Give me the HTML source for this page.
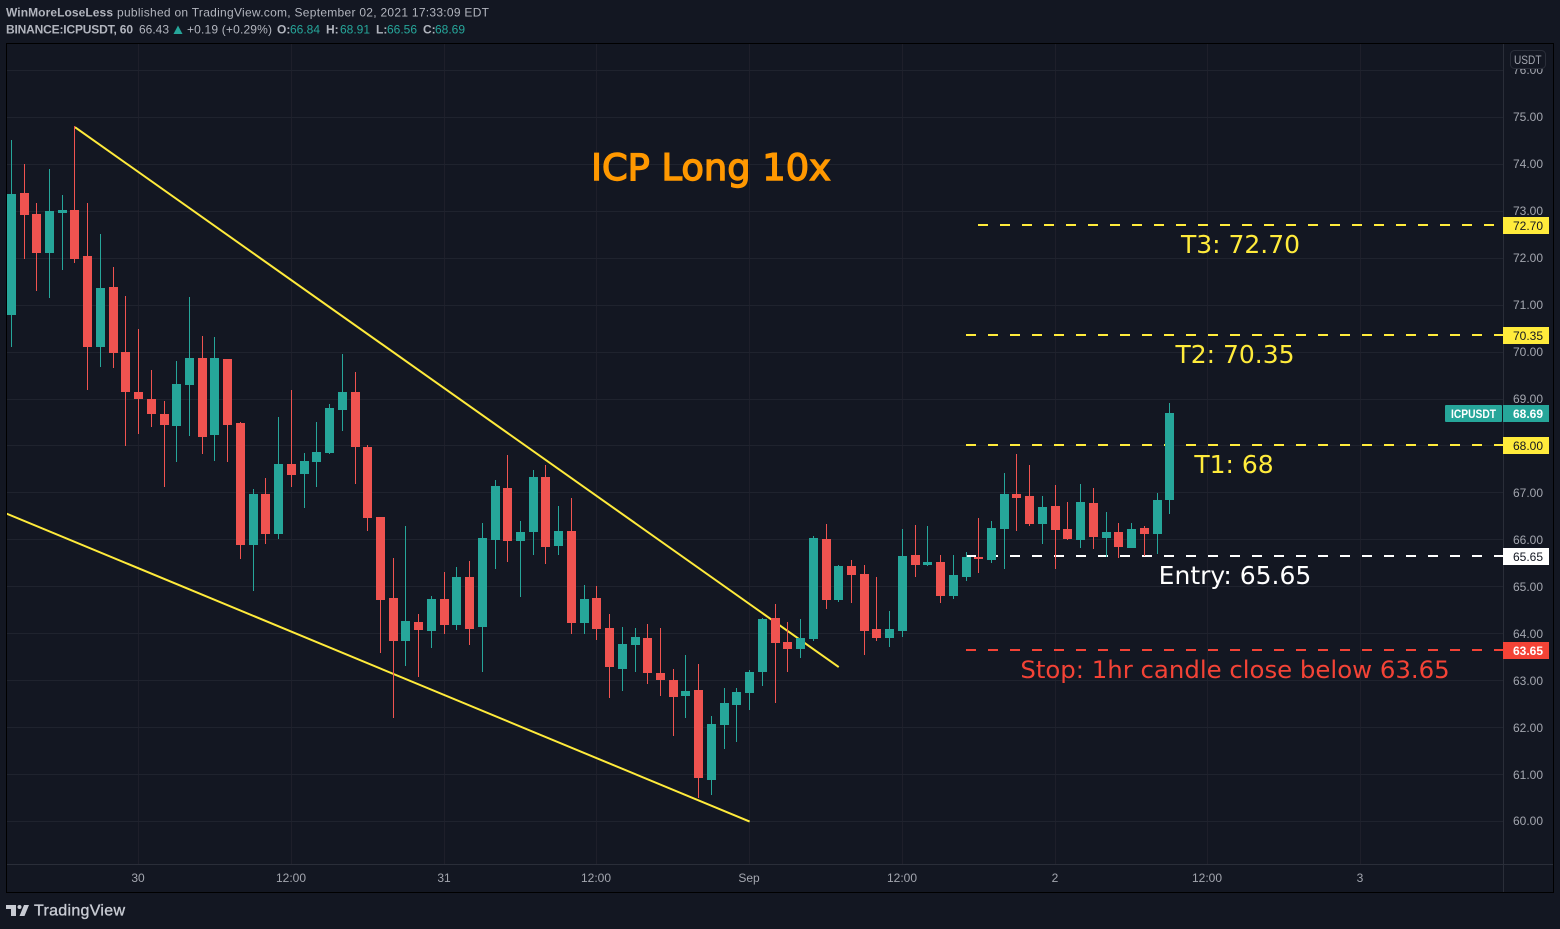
<!DOCTYPE html>
<html lang="en">
<head>
<meta charset="utf-8">
<title>ICPUSDT chart</title>
<style>
html,body{margin:0;padding:0;background:#131722;width:1560px;height:929px;overflow:hidden}
svg{display:block;position:absolute;left:0;top:0}
text{font-family:"Liberation Sans",sans-serif}
.note{font-family:"DejaVu Sans","Liberation Sans",sans-serif;font-size:25px;text-anchor:middle}
.ax{font-size:12px;fill:#a3a6af}
.hd{font-size:12px;fill:#b2b5be}
.hdb{font-size:12px;fill:#b2b5be;font-weight:bold}
.hdg{font-size:12px;fill:#26a69a}
</style>
</head>
<body>
<svg id="chart" width="1560" height="929" viewBox="0 0 1560 929" xmlns="http://www.w3.org/2000/svg">
  <defs><clipPath id="pane"><rect x="7" y="44" width="1496" height="820"/></clipPath></defs>
  <rect x="6.5" y="43.5" width="1547" height="849" fill="#131722" stroke="#000" stroke-width="1"/>
  <g id="grid"></g>
  <g id="drawings" clip-path="url(#pane)"></g>
  <g id="candles" clip-path="url(#pane)"></g>
  <rect x="1503" y="44" width="1" height="848" fill="#2a2e39"/>
  <rect x="7" y="864" width="1546" height="1" fill="#2a2e39"/>
  <g id="priceAxis"></g>
  <g id="timeAxis"></g>

  <g>
    <text x="6" y="16.5" class="hdb" textLength="107" lengthAdjust="spacing">WinMoreLoseLess</text>
    <text x="117" y="16.5" class="hd" textLength="372" lengthAdjust="spacing">published on TradingView.com, September 02, 2021 17:33:09 EDT</text>
    <text x="6" y="33.5" class="hdb" textLength="127" lengthAdjust="spacing">BINANCE:ICPUSDT, 60</text>
    <text x="139" y="33.5" class="hd">66.43</text>
    <path d="M173.5 34L178 25.5L182.5 34Z" fill="#26a69a"/>
    <text x="187" y="33.5" class="hd" textLength="85" lengthAdjust="spacing">+0.19 (+0.29%)</text>
    <text x="277" y="33.5" class="hdb">O:</text>
    <text x="290" y="33.5" class="hdg">66.84</text>
    <text x="326" y="33.5" class="hdb">H:</text>
    <text x="340" y="33.5" class="hdg">68.91</text>
    <text x="376" y="33.5" class="hdb">L:</text>
    <text x="387" y="33.5" class="hdg">66.56</text>
    <text x="423" y="33.5" class="hdb">C:</text>
    <text x="435" y="33.5" class="hdg">68.69</text>
  </g>

  <text x="711" y="180" font-size="36.8" fill="#ff9800" stroke="#ff9800" stroke-width="1.4" text-anchor="middle" style='font-family:"DejaVu Sans",sans-serif'>ICP Long 10x</text>
  <text x="1240.5" y="253" class="note" fill="#ffeb3b">T3: 72.70</text>
  <text x="1235" y="363" class="note" fill="#ffeb3b">T2: 70.35</text>
  <text x="1234" y="473" class="note" fill="#ffeb3b">T1: 68</text>
  <text x="1235" y="584" class="note" fill="#ffffff">Entry: 65.65</text>
  <text x="1235" y="678" class="note" fill="#f44336" style="font-size:24.4px">Stop: 1hr candle close below 63.65</text>

  <g>
    <path d="M6 905H16V916H11V909H6ZM24 905H29L24.5 916H19.5Z" fill="#c8cbd3"/>
    <circle cx="19.5" cy="907" r="2" fill="#c8cbd3"/>
    <text x="34" y="915.5" font-size="16" fill="#c8cbd3" stroke="#c8cbd3" stroke-width="0.35" textLength="91" lengthAdjust="spacing">TradingView</text>
  </g>
  <g>
    <rect x="1510.5" y="50.5" width="35" height="18" rx="4" fill="#131722" stroke="#2a2e39"/>
    <text x="1514" y="64" class="ax" textLength="27.5" lengthAdjust="spacingAndGlyphs">USDT</text>
  </g>
</svg>
<script>
var opens = [70.78,73.38,72.93,72.10,72.95,73.02,72.04,70.10,71.38,69.99,
69.14,68.99,68.67,68.42,69.29,69.86,68.22,69.84,68.48,65.88,
66.97,66.11,67.61,67.39,67.65,67.84,68.76,69.14,67.97,66.48,
64.75,63.84,64.24,64.05,64.73,64.18,65.20,64.13,65.99,67.09,
65.97,66.16,67.33,65.86,66.18,64.22,64.75,64.11,63.24,63.75,
63.90,63.15,63.01,62.66,62.79,60.88,62.05,62.47,62.73,63.18,
64.33,63.81,63.67,63.88,66.01,64.71,65.43,65.26,64.09,63.90,
64.05,65.67,65.45,65.52,64.79,65.20,65.63,65.56,66.22,66.97,
66.92,66.33,66.71,66.22,65.99,66.78,66.03,66.16,65.82,66.24,
66.11,66.84];
var highs = [74.51,74.00,73.17,73.89,73.34,74.81,73.17,72.51,71.80,71.18,
70.48,69.61,68.95,69.80,71.16,70.33,70.31,69.84,68.50,67.07,
67.31,68.61,69.18,67.84,68.50,68.88,69.95,69.57,68.01,66.48,
65.60,66.29,64.41,64.79,65.31,65.41,65.54,66.35,67.27,67.80,
66.39,67.48,67.58,66.71,66.88,65.03,65.01,64.41,64.13,64.11,
64.20,64.11,63.24,63.54,63.35,62.24,62.84,62.84,63.22,64.33,
64.62,64.24,64.30,66.07,66.33,65.45,65.56,65.45,65.20,64.47,
66.22,66.31,66.29,65.67,65.67,65.73,66.46,66.39,67.41,67.82,
67.58,66.92,67.16,66.80,67.18,67.09,66.58,66.35,66.35,66.29,
66.99,68.91];
var lows = [70.10,71.97,71.29,71.14,71.74,71.89,69.18,69.67,69.65,67.99,
68.25,68.39,67.12,67.65,68.20,67.82,67.67,67.65,65.58,64.90,
65.90,66.01,67.12,66.67,67.12,67.82,68.31,67.18,66.18,63.58,
62.20,63.30,63.07,63.69,63.99,64.07,63.75,63.18,65.37,65.52,
64.77,65.67,65.48,65.67,63.99,63.99,63.86,62.62,62.77,63.18,
62.92,62.66,61.81,62.20,60.49,60.56,61.54,61.68,62.37,62.88,
62.52,63.18,63.47,63.84,64.52,64.67,64.65,63.54,63.84,63.71,
63.92,65.20,65.43,64.65,64.73,65.11,65.28,65.50,65.37,66.18,
66.29,65.90,65.37,65.99,65.82,65.80,65.63,65.60,65.82,65.65,
65.69,66.54];
var closes = [73.36,72.91,72.10,72.99,73.02,71.97,70.10,71.36,69.97,69.14,
68.99,68.67,68.44,69.31,69.86,68.18,69.86,68.44,65.88,66.97,
66.11,67.61,67.37,67.67,67.86,68.80,69.14,67.97,66.46,64.71,
63.84,64.26,64.07,64.73,64.18,65.20,64.09,66.03,67.14,65.97,
66.16,67.33,65.84,66.18,64.22,64.73,64.09,63.28,63.77,63.92,
63.15,63.01,62.64,62.77,60.92,62.07,62.52,62.75,63.18,64.30,
63.79,63.67,63.90,66.03,64.71,65.43,65.24,64.05,63.90,64.09,
65.65,65.45,65.52,64.79,65.24,65.63,65.58,66.24,66.97,66.88,
66.33,66.69,66.20,66.01,66.80,66.05,66.16,65.84,66.22,66.11,
66.84,68.69];
var priceTicks = [76,75,74,73,72,71,70,69,68,67,66,65,64,63,62,61,60];
var timeLabels = ["30","12:00","31","12:00","Sep","12:00","2","12:00","3"];
var timeBars = [10,22,34,46,58,70,82,94,106];
var levelPrices = [72.70,70.35,68.00,65.65,63.65];
var levelStartBars = [76,75,75,75,75];
var upperTrendBars = [5,65];
var upperTrendPrices = [74.78,63.28];
var lowerTrendBars = [-1,58];
var lowerTrendPrices = [66.62,59.99];
var lastPrice = 68.69;
var symbolName = "ICPUSDT";

var NS = "http://www.w3.org/2000/svg";
var GREEN = "#26a69a", RED = "#ef5350", YELLOW = "#ffeb3b", STOP = "#f44336";
var levelColors = [YELLOW, YELLOW, YELLOW, "#ffffff", STOP];
var levelTextColors = ["#131722", "#131722", "#131722", "#131722", "#ffffff"];
var levelTextWeights = ["normal", "normal", "normal", "normal", "bold"];

function xScale(bar) { return 11.3 + bar * 12.73; }
function yScale(price) { return 445.49 + (68 - price) * 46.95; }
function make(tag, parent, props) {
  var el = document.createElementNS(NS, tag);
  for (var k in props) { el.setAttribute(k, props[k]); }
  parent.appendChild(el);
  return el;
}

var grid = document.getElementById("grid");
var drawings = document.getElementById("drawings");
var candles = document.getElementById("candles");
var priceAxis = document.getElementById("priceAxis");
var timeAxis = document.getElementById("timeAxis");

timeBars.forEach(function (bar, i) {
  var col = Math.floor(xScale(bar));
  if (col < 1503) {
    var line = make("rect", grid, { x: col, y: 44, width: 1, height: 820, fill: "#1e1f2a" });
    
    
  }
  var label = make("text", timeAxis, { x: col, y: 882, "text-anchor": "middle", "class": "ax" });
  
  
  label.textContent = timeLabels[i];
});

priceTicks.forEach(function (price) {
  var row = Math.round(yScale(price));
  var line = make("rect", grid, { x: 7, y: row, width: 1496, height: 1, fill: "#1f232e" });
  
  
  var label = make("text", priceAxis, { x: 1513, y: Math.round(yScale(price) + 4.4), "class": "ax" });
  
  
  label.textContent = price.toFixed(2);
});

function trend(bars, prices, name) {
  var line = make("line", drawings, {
    x1: xScale(bars[0]), y1: yScale(prices[0]),
    x2: xScale(bars[1]), y2: yScale(prices[1]),
    stroke: YELLOW, "stroke-width": 2
  });
  
  
}
trend(upperTrendBars, upperTrendPrices, "upper-trendline");
trend(lowerTrendBars, lowerTrendPrices, "lower-trendline");

levelPrices.forEach(function (price, i) {
  var y = yScale(price);
  var line = make("line", drawings, {
    x1: Math.floor(xScale(levelStartBars[i])), y1: Math.round(y), x2: 1503, y2: Math.round(y),
    stroke: levelColors[i], "stroke-width": 2, "stroke-dasharray": "10 12"
  });
  
  
  var box = make("rect", priceAxis, { x: 1503, y: Math.round(y) - 8, width: 46, height: 17, fill: levelColors[i] });
  
  
  var tx = make("text", priceAxis, { x: 1513, y: Math.round(y) + 5, "font-size": 12, "font-weight": levelTextWeights[i], fill: levelTextColors[i] });
  
  
  tx.textContent = price.toFixed(2);
});

closes.forEach(function (close, i) {
  var col = Math.floor(xScale(i));
  var color = close >= opens[i] ? GREEN : RED;
  var top = Math.round(yScale(Math.max(opens[i], close)));
  var bottom = Math.round(yScale(Math.min(opens[i], close)));
  var hi = Math.round(yScale(highs[i]));
  var lo = Math.round(yScale(lows[i]));
  var g = make("g", candles, {});
  
  
  var wick = make("rect", g, { x: col, y: hi, width: 1, height: Math.max(1, lo - hi), fill: color });
  
  
  var body = make("rect", g, { x: col - 4, y: top, width: 9, height: Math.max(1, bottom - top), fill: color });
  
  
});

var lastY = Math.round(yScale(lastPrice));
var symBox = make("rect", priceAxis, { x: 1445, y: lastY - 8, width: 57, height: 17, rx: 1, fill: GREEN });


var symText = make("text", priceAxis, { x: 1451, y: lastY + 5, "font-size": 12, "font-weight": "bold", fill: "#ffffff", textLength: 45, lengthAdjust: "spacingAndGlyphs" });


symText.textContent = symbolName;
var lastBox = make("rect", priceAxis, { x: 1503, y: lastY - 8, width: 46, height: 17, fill: GREEN });


var lastText = make("text", priceAxis, { x: 1513, y: lastY + 5, "font-size": 12, "font-weight": "bold", fill: "#ffffff" });


lastText.textContent = lastPrice.toFixed(2);
</script>
</body>
</html>
